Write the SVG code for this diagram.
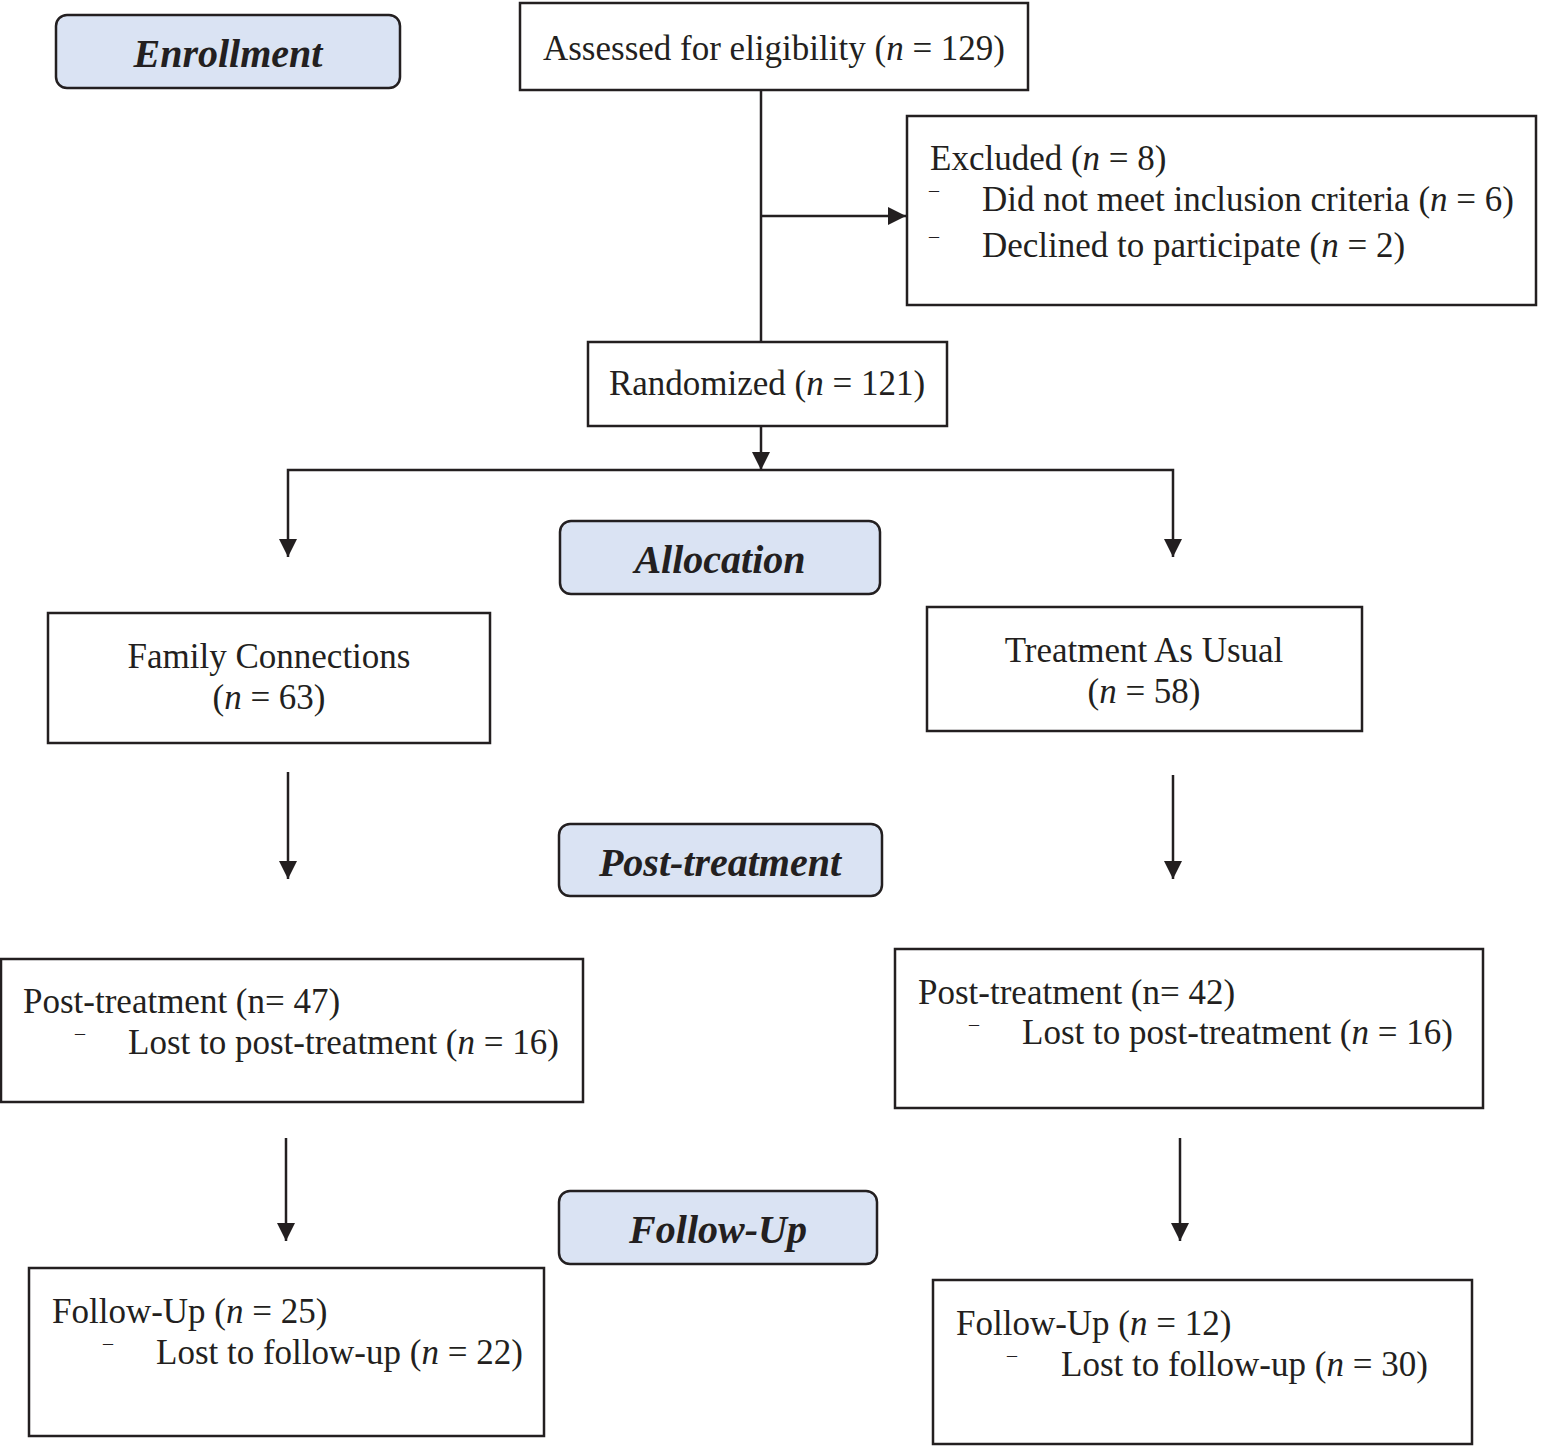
<svg xmlns="http://www.w3.org/2000/svg" width="1542" height="1446" viewBox="0 0 1542 1446">
<style>
.box{fill:#ffffff;stroke:#231f20;stroke-width:2.5}
.lab{fill:#dae3f3;stroke:#231f20;stroke-width:2.5}
.t{font-family:"Liberation Serif","Times New Roman",serif;font-size:35px;fill:#231f20}
.c{text-anchor:middle}
.lt{font-family:"Liberation Serif","Times New Roman",serif;font-size:40px;font-weight:bold;font-style:italic;fill:#231f20;text-anchor:middle}
.d{font-family:"Liberation Serif","Times New Roman",serif;font-size:20px;fill:#231f20}
.i{font-style:italic}
.con{fill:none;stroke:#231f20;stroke-width:2.5}
</style>
<defs>
<marker id="arr" markerUnits="userSpaceOnUse" markerWidth="18" markerHeight="18" viewBox="0 0 16 16" refX="16" refY="8" orient="auto">
<path d="M0,0 L16,8 L0,16 Z" fill="#231f20"/>
</marker>
</defs>
<rect width="1542" height="1446" fill="#ffffff"/>
<g id="connectors">
<path class="con" d="M761,90 V342"/>
<path class="con" d="M761,216 H906" marker-end="url(#arr)"/>
<path class="con" d="M761,426 V470" marker-end="url(#arr)"/>
<path class="con" d="M761,470 H288 V557" marker-end="url(#arr)"/>
<path class="con" d="M761,470 H1173 V557" marker-end="url(#arr)"/>
<path class="con" d="M288,772 V879" marker-end="url(#arr)"/>
<path class="con" d="M1173,775 V879" marker-end="url(#arr)"/>
<path class="con" d="M286,1138 V1241" marker-end="url(#arr)"/>
<path class="con" d="M1180,1138 V1241" marker-end="url(#arr)"/>
</g>
<g id="enrollment">
<rect class="lab" x="56" y="15" width="344" height="73" rx="11"/>
<text class="lt" x="228" y="67">Enrollment</text>
</g>
<g id="assessed">
<rect class="box" x="520" y="3" width="508" height="87"/>
<text class="t c" x="774" y="60">Assessed for eligibility (<tspan class="i">n</tspan> = 129)</text>
</g>
<g id="excluded">
<rect class="box" x="907" y="116" width="629" height="189"/>
<text class="t" x="930" y="170">Excluded (<tspan class="i">n</tspan> = 8)</text>
<text class="d" x="929" y="197">–</text>
<text class="t" x="982" y="211">Did not meet inclusion criteria (<tspan class="i">n</tspan> = 6)</text>
<text class="d" x="929" y="243">–</text>
<text class="t" x="982" y="257">Declined to participate (<tspan class="i">n</tspan> = 2)</text>
</g>
<g id="randomized">
<rect class="box" x="588" y="342" width="359" height="84"/>
<text class="t c" x="767" y="395">Randomized (<tspan class="i">n</tspan> = 121)</text>
</g>
<g id="allocation">
<rect class="lab" x="560" y="521" width="320" height="73" rx="11"/>
<text class="lt" x="720" y="573">Allocation</text>
</g>
<g id="family-connections">
<rect class="box" x="48" y="613" width="442" height="130"/>
<text class="t c" x="269" y="668">Family Connections</text>
<text class="t c" x="269" y="709">(<tspan class="i">n</tspan> = 63)</text>
</g>
<g id="treatment-as-usual">
<rect class="box" x="927" y="607" width="435" height="124"/>
<text class="t c" x="1144" y="662">Treatment As Usual</text>
<text class="t c" x="1144" y="703">(<tspan class="i">n</tspan> = 58)</text>
</g>
<g id="post-treatment-label">
<rect class="lab" x="559" y="824" width="323" height="72" rx="11"/>
<text class="lt" x="720" y="876">Post-treatment</text>
</g>
<g id="post-left">
<rect class="box" x="1" y="959" width="582" height="143"/>
<text class="t" x="23" y="1013">Post-treatment (n= 47)</text>
<text class="d" x="75" y="1040">–</text>
<text class="t" x="128" y="1054">Lost to post-treatment (<tspan class="i">n</tspan> = 16)</text>
</g>
<g id="post-right">
<rect class="box" x="895" y="949" width="588" height="159"/>
<text class="t" x="918" y="1004">Post-treatment (n= 42)</text>
<text class="d" x="969" y="1031">–</text>
<text class="t" x="1022" y="1044">Lost to post-treatment (<tspan class="i">n</tspan> = 16)</text>
</g>
<g id="follow-up-label">
<rect class="lab" x="559" y="1191" width="318" height="73" rx="11"/>
<text class="lt" x="718" y="1243">Follow-Up</text>
</g>
<g id="follow-left">
<rect class="box" x="29" y="1268" width="515" height="168"/>
<text class="t" x="52" y="1323">Follow-Up (<tspan class="i">n</tspan> = 25)</text>
<text class="d" x="103" y="1350">–</text>
<text class="t" x="156" y="1364">Lost to follow-up (<tspan class="i">n</tspan> = 22)</text>
</g>
<g id="follow-right">
<rect class="box" x="933" y="1280" width="539" height="164"/>
<text class="t" x="956" y="1335">Follow-Up (<tspan class="i">n</tspan> = 12)</text>
<text class="d" x="1007" y="1362">–</text>
<text class="t" x="1061" y="1376">Lost to follow-up (<tspan class="i">n</tspan> = 30)</text>
</g>
</svg>
